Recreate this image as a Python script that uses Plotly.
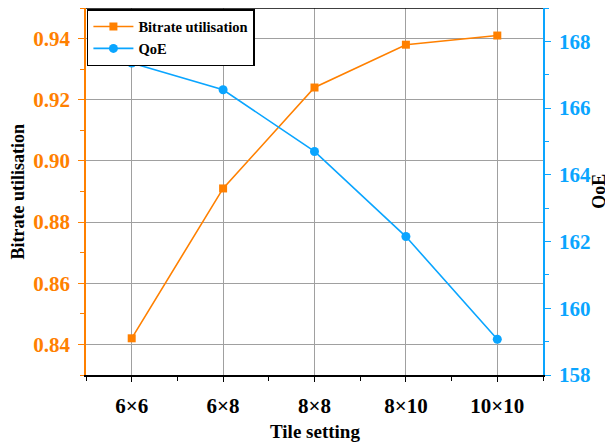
import plotly.graph_objects as go

categories = ["6×6", "6×8", "8×8", "8×10", "10×10"]
bitrate = [0.842, 0.891, 0.924, 0.938, 0.941]
qoe = [167.35, 166.55, 164.7, 162.15, 159.07]
left_ticks = [0.84, 0.86, 0.88, 0.90, 0.92, 0.94]
right_ticks = [158, 160, 162, 164, 166, 168]

ORANGE = "#FF8000"
BLUE = "#0AA5FF"
FONT = "Liberation Serif"
xs = list(range(len(categories)))

fig = go.Figure()
fig.add_trace(go.Scatter(x=xs, y=bitrate, name="Bitrate utilisation", mode="lines+markers",
                         line=dict(color=ORANGE, width=1.6),
                         marker=dict(symbol="square", size=8, color=ORANGE)))
fig.add_trace(go.Scatter(x=xs, y=qoe, name="QoE", mode="lines+markers", yaxis="y2",
                         line=dict(color=BLUE, width=1.6),
                         marker=dict(symbol="circle", size=9, color=BLUE)))

tick_font = lambda c: dict(size=21, family=FONT, color=c, weight="bold")

# page body has an 8px margin, so the figure is sized to fit inside the window
fig.update_layout(
    width=605, height=436,
    margin=dict(l=78, r=70, t=0, b=69, autoexpand=False),
    plot_bgcolor="white", paper_bgcolor="white",
    font=dict(family=FONT, color="black"),
    showlegend=True,
    legend=dict(x=0.002, y=0.997, xanchor="left", yanchor="top",
                bgcolor="white", bordercolor="black", borderwidth=1.5,
                font=dict(size=14.5, family=FONT, color="black", weight="bold"),
                tracegroupgap=0, itemwidth=40),
    xaxis=dict(
        range=[-0.5, 4.5], tickmode="array", tickvals=xs,
        ticktext=categories, automargin=False,
        tickfont=tick_font("black"),
        ticks="outside", ticklen=5, tickcolor="black", tickwidth=1,
        ticklabelstandoff=6,
        showline=True, linecolor="black", linewidth=1.5, mirror=False,
        showgrid=True, gridcolor="#a0a0a0", gridwidth=1,
        zeroline=False,
        minor=dict(tickmode="array", tickvals=[-0.5, 0.5, 1.5, 2.5, 3.5, 4.5],
                   ticks="outside", ticklen=4, tickcolor="black", showgrid=False),
    ),
    yaxis=dict(
        range=[0.83, 0.95], tickmode="array", tickvals=left_ticks,
        ticktext=[f"{v:.2f}" for v in left_ticks], automargin=False,
        tickfont=tick_font(ORANGE),
        ticks="outside", ticklen=6, tickcolor=ORANGE, tickwidth=1.2,
        ticklabelstandoff=4,
        showline=True, linecolor=ORANGE, linewidth=1.5,
        showgrid=True, gridcolor="#a0a0a0", gridwidth=1,
        zeroline=False,
        minor=dict(tickmode="array", tickvals=[0.83, 0.85, 0.87, 0.89, 0.91, 0.93, 0.95],
                   ticks="outside", ticklen=4, tickcolor=ORANGE, showgrid=False),
    ),
    yaxis2=dict(
        overlaying="y", side="right",
        range=[158, 169], tickmode="array", tickvals=right_ticks,
        ticktext=[str(v) for v in right_ticks], automargin=False,
        tickfont=tick_font(BLUE),
        ticks="outside", ticklen=6, tickcolor=BLUE, tickwidth=1.2,
        ticklabelstandoff=4,
        showline=True, linecolor=BLUE, linewidth=1.5,
        showgrid=False, zeroline=False,
        minor=dict(tickmode="array", tickvals=[159, 161, 163, 165, 167, 169],
                   ticks="outside", ticklen=4, tickcolor=BLUE, showgrid=False),
    ),
    annotations=[
        dict(text="Tile setting", xref="paper", yref="paper", x=0.5, y=-0.155,
             xanchor="center", yanchor="middle", showarrow=False,
             font=dict(size=19, family=FONT, color="black", weight="bold")),
        dict(text="Bitrate utilisation", xref="paper", yref="paper", x=-0.149, y=0.5,
             xanchor="center", yanchor="middle", showarrow=False, textangle=-90,
             font=dict(size=18, family=FONT, color="black", weight="bold")),
        dict(text="QoE", xref="paper", yref="paper", x=1.121, y=0.5,
             xanchor="center", yanchor="middle", showarrow=False, textangle=-90,
             font=dict(size=18, family=FONT, color="black", weight="bold")),
    ],
)
fig.add_shape(type="line", xref="paper", yref="paper", x0=0, x1=1, y0=1, y1=1,
              line=dict(color="black", width=1.5))

fig.write_html("out.html")
